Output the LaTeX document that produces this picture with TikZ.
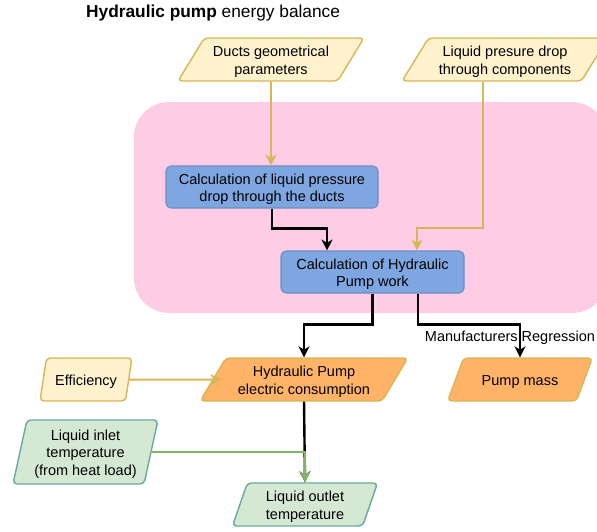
\documentclass[tikz,border=0pt]{standalone}
\usepackage{fontspec}
\setmainfont{Liberation Sans}
\usepackage{tikz}
\usetikzlibrary{shapes.geometric, arrows.meta, calc}
\definecolor{input-fill}{HTML}{FFF2CC}
\definecolor{input-line}{HTML}{D6B656}
\definecolor{calc-fill}{HTML}{7EA6E0}
\definecolor{calc-line}{HTML}{6C8EBF}
\definecolor{result-fill}{HTML}{FFB366}
\definecolor{temp-fill}{HTML}{D5E8D4}
\definecolor{temp-line}{HTML}{67AB9F}
\definecolor{temp-arrow}{HTML}{82B366}
\definecolor{area-pink}{HTML}{FFCCE6}
\newcommand{\tstrut}{\rule{0pt}{14.6pt}}

\begin{document}
\begin{tikzpicture}[
    x=1pt, y=-1pt,
    font=\fontsize{14.5}{17.6}\selectfont,
    para/.style={trapezium, trapezium stretches, rounded corners=4pt, line width=1.4pt, align=center, inner sep=0pt},
    inputbox/.style={para, draw=input-line, fill=input-fill},
    resultbox/.style={para, draw=input-line, fill=result-fill},
    tempbox/.style={para, draw=temp-line, fill=temp-fill},
    calcbox/.style={rectangle, draw=calc-line, fill=calc-fill, line width=1.1pt, rounded corners=5pt, align=center, inner sep=0pt},
    arrow/.style={->, >={Stealth[length=11pt, width=11pt, inset=3.5pt]}, line width=2.4pt},
    yarrow/.style={arrow, draw=input-line, line width=2pt},
    garrow/.style={arrow, draw=temp-arrow, line width=2pt}
]
\useasboundingbox (0,0) rectangle (597,531);

% Calculation area
\node[fill=area-pink, rounded corners=35pt, minimum width=473pt, minimum height=211pt] (area) at (370.5,207.5) {};

% Title
\node[anchor=west, inner sep=0pt, font=\fontsize{17.3}{20}\selectfont] (title) at (86,13) {\textbf{Hydraulic pump} energy balance};

% Inputs
\node[inputbox, minimum width=186pt, minimum height=43pt, trapezium left angle=57, trapezium right angle=123] (ducts) at (271,59.5) {\tstrut Ducts geometrical\\parameters};
\node[inputbox, minimum width=206pt, minimum height=43pt, trapezium left angle=57, trapezium right angle=123] (presure) at (505,59.5) {\tstrut Liquid presure drop\\through components};

% Calculations
\node[calcbox, minimum width=212pt, minimum height=42pt] (calc1) at (272,187) {\tstrut Calculation of liquid pressure\\drop through the ducts};
\node[calcbox, minimum width=183pt, minimum height=42pt] (calc2) at (372.5,272) {\tstrut Calculation of Hydraulic\\Pump work};

% Results
\node[inputbox, minimum width=92pt, minimum height=43pt, trapezium left angle=74, trapezium right angle=106] (eff) at (86,379.5) {\tstrut Efficiency};
\node[resultbox, minimum width=208pt, minimum height=43pt, trapezium left angle=58.5, trapezium right angle=121.5] (hp) at (304,379.5) {\tstrut Hydraulic Pump\\electric consumption};
\node[resultbox, minimum width=146pt, minimum height=43pt, trapezium left angle=58.5, trapezium right angle=121.5] (mass) at (520,379.5) {\tstrut Pump mass};

% Temperatures
\node[tempbox, minimum width=145pt, minimum height=64pt, trapezium left angle=77, trapezium right angle=103] (inlet) at (85.5,452) {\tstrut Liquid inlet\\temperature\\(from heat load)};
\node[tempbox, minimum width=146pt, minimum height=43pt, trapezium left angle=74, trapezium right angle=106] (outlet) at (305,504.5) {\tstrut Liquid outlet\\temperature};

% Arrows
\draw[yarrow] (ducts.south) -- (ducts.south |- calc1.north);
\draw[yarrow] ([xshift=-22pt]presure.south) |- ($(calc2.north)+(44.5,-22)$) -- ($(calc2.north)+(44.5,0)$);
\draw[arrow] (calc1.south) |- ($(calc2.north)+(-45.5,-22)$) -- ($(calc2.north)+(-45.5,0)$);
\draw[arrow] (calc2.south) -- ++(0,31) -| (hp.north);
\draw[arrow] ([xshift=45.5pt]calc2.south) -- ++(0,31) -| node[pos=0.70, xshift=-10pt, inner sep=0pt] {Manufacturers Regression} (mass.north);
\draw[yarrow] (eff.east) -- ([xshift=9pt]hp.west);
\draw[arrow] (hp.south) -- (outlet.north);
\draw[garrow] (inlet.east) -| (outlet.north);

\end{tikzpicture}
\end{document}
